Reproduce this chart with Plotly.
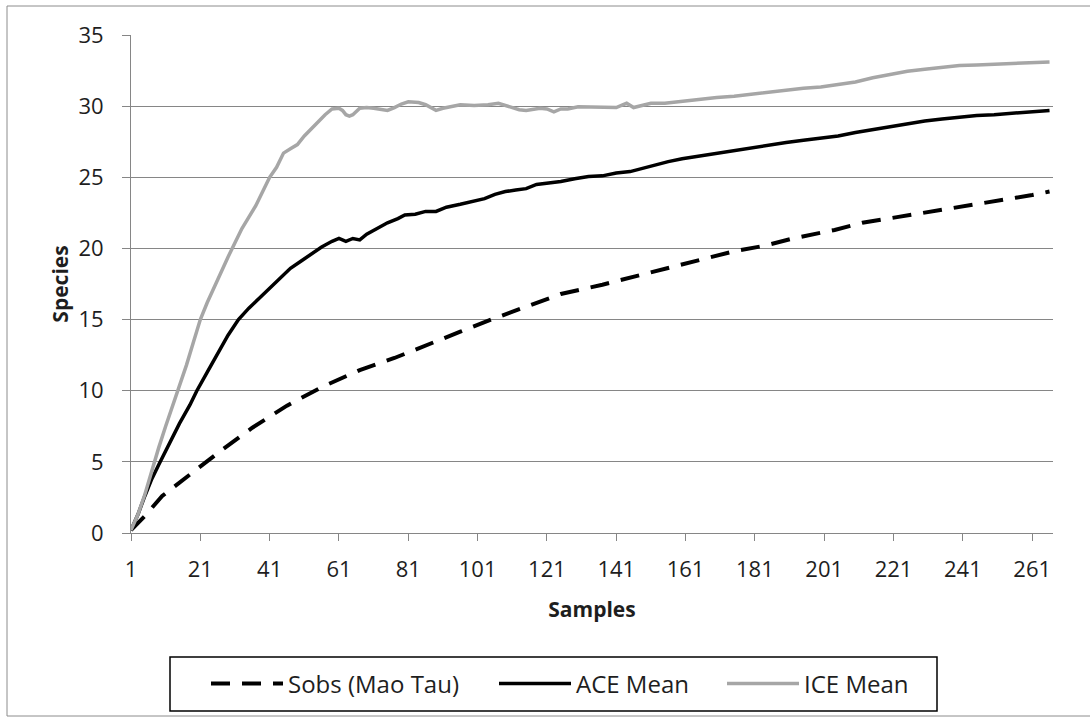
import plotly.graph_objects as go

# ---- data ----
sobs_x = [1, 5, 10, 17, 22, 27, 36, 46, 56, 67, 77, 86, 96, 106, 115, 125, 137, 146, 156, 165, 175,
          184, 192, 204, 212, 222, 232, 241, 250, 261, 266]
sobs_y = [0.2, 1.2, 2.6, 3.9, 4.9, 5.8, 7.4, 8.95, 10.25, 11.45, 12.3, 13.2, 14.15, 15.1, 15.9, 16.8,
          17.45, 18.0, 18.6, 19.2, 19.8, 20.2, 20.7, 21.3, 21.8, 22.2, 22.6, 22.9, 23.3, 23.75, 24.0]

ace_x = [1, 3, 5, 7, 9, 12, 15, 18, 20, 23, 26, 29, 32, 35, 38, 41, 44, 47, 50, 53, 56, 59, 61, 63,
         65, 67, 69, 72, 75, 78, 80, 83, 86, 89, 92, 96, 100, 103, 106, 109, 112, 115, 118, 121, 125,
         129, 133, 137, 141, 145, 148, 152, 156, 160, 165, 170, 175, 180, 185, 190, 195, 200, 205,
         210, 215, 220, 225, 230, 235, 240, 245, 250, 255, 260, 266]
ace_y = [0.2, 1.3, 2.6, 3.8, 4.8, 6.3, 7.7, 9.0, 10.0, 11.3, 12.6, 13.9, 15.0, 15.8, 16.5, 17.2, 17.9,
         18.6, 19.1, 19.6, 20.1, 20.5, 20.7, 20.5, 20.7, 20.6, 21.0, 21.4, 21.8, 22.1, 22.35, 22.4,
         22.6, 22.6, 22.9, 23.1, 23.3, 23.5, 23.8, 24.0, 24.1, 24.2, 24.5, 24.6, 24.7, 24.9, 25.05,
         25.1, 25.3, 25.4, 25.6, 25.85, 26.1, 26.3, 26.5, 26.7, 26.9, 27.1, 27.3, 27.45, 27.6, 27.75,
         27.9, 28.15, 28.35, 28.6, 28.8, 28.95, 29.1, 29.25, 29.35, 29.4, 29.5, 29.55, 29.7]

ice_x = [1, 3, 5, 7, 9, 11, 13, 15, 17, 19, 21, 23, 25, 27, 29, 31, 33, 35, 37, 39, 41, 43, 45, 47,
         49, 51, 53, 55, 57, 59, 61, 62, 63, 64, 65, 67, 69, 71, 73, 75, 77, 79, 81, 84, 86, 88, 89,
         91, 93, 96, 100, 104, 107, 109, 111, 113, 115, 117, 119, 121, 123, 125, 127, 130, 133, 137,
         141, 143, 144, 146, 148, 151, 155, 160, 165, 170, 175, 180, 185, 190, 195, 200, 205, 210,
         215, 220, 225, 230, 235, 240, 245, 250, 255, 260, 263, 266]
ice_y = [0.2, 1.3, 2.7, 4.4, 6.0, 7.5, 8.9, 10.3, 11.8, 13.4, 15.0, 16.2, 17.3, 18.3, 19.4, 20.4,
         21.4, 22.2, 23.0, 24.0, 25.0, 25.7, 26.7, 27.0, 27.3, 27.9, 28.4, 28.9, 29.4, 29.8, 29.85,
         29.7, 29.4, 29.3, 29.4, 29.85, 29.9, 29.85, 29.8, 29.7, 29.9, 30.15, 30.3, 30.25, 30.1, 29.85,
         29.7, 29.85, 29.95, 30.1, 30.05, 30.1, 30.2, 30.05, 29.85, 29.75, 29.7, 29.75, 29.85, 29.8,
         29.6, 29.8, 29.8, 29.95, 29.95, 29.9, 29.9, 30.1, 30.2, 29.9, 30.0, 30.2, 30.2, 30.35, 30.45,
         30.6, 30.7, 30.85, 31.0, 31.1, 31.25, 31.35, 31.5, 31.7, 32.0, 32.25, 32.45, 32.6, 32.75,
         32.85, 32.9, 32.95, 33.0, 33.0, 33.05, 33.1]

x_ticks = [1, 21, 41, 61, 81, 101, 121, 141, 161, 181, 201, 221, 241, 261]
y_ticks = [0, 5, 10, 15, 20, 25, 30, 35]

FONT = "Open Sans, sans-serif"
AX = "#868686"
TXT = "#1e1e1e"

fig = go.Figure()
fig.add_trace(go.Scatter(x=sobs_x, y=sobs_y, mode="lines", name="Sobs (Mao Tau)", legend="legend",
                         line=dict(color="black", width=4, dash="19px,12px")))
fig.add_trace(go.Scatter(x=ace_x, y=ace_y, mode="lines", name="ACE Mean", legend="legend2",
                         line=dict(color="black", width=3.5)))
fig.add_trace(go.Scatter(x=ice_x, y=ice_y, mode="lines", name="ICE Mean", legend="legend3",
                         line=dict(color="#a6a6a6", width=3.5)))

W, H = 1090, 719
L, R, T, B = 131, 37, 35, 186
pw, ph = W - L - R, H - T - B

def px_x(p):
    return (p - L) / pw

def px_y(p):
    return (H - B - p) / ph

def leg(xpx):
    return dict(orientation="h", x=px_x(xpx), xanchor="left", y=px_y(684), yanchor="middle",
                borderwidth=0, bgcolor="rgba(0,0,0,0)",
                font=dict(family=FONT, size=24, color=TXT), itemwidth=72)

fig.update_layout(
    width=W, height=H,
    margin=dict(l=L, r=R, t=T, b=B),
    paper_bgcolor="white", plot_bgcolor="white",
    font=dict(family=FONT, size=22, color=TXT),
    showlegend=True,
    legend=leg(206), legend2=leg(494), legend3=leg(722),
    xaxis=dict(range=[1, 267], tickvals=x_ticks, ticktext=[str(v) for v in x_ticks],
               showgrid=False, zeroline=False, showline=True, linecolor=AX, linewidth=1,
               ticks="outside", ticklen=7, tickcolor=AX, ticklabelstandoff=10,
               tickfont=dict(family=FONT, size=22, color=TXT),
               title=dict(text="<b>Samples</b>", font=dict(family=FONT, size=21, color=TXT), standoff=19)),
    yaxis=dict(range=[0, 35], tickvals=y_ticks, showgrid=True, gridcolor=AX, gridwidth=1,
               zeroline=False, showline=True, linecolor=AX, linewidth=1,
               ticks="outside", ticklen=8, tickcolor=AX, ticklabelstandoff=14,
               tickfont=dict(family=FONT, size=22, color=TXT),
               title=dict(text="<b>Species</b>", font=dict(family=FONT, size=21, color=TXT), standoff=4)),
    shapes=[
        dict(type="rect", xref="paper", yref="paper",
             x0=px_x(7), x1=px_x(1100), y0=px_y(716), y1=px_y(6),
             line=dict(color="#8c8c8c", width=1), fillcolor="rgba(0,0,0,0)", layer="below"),
        dict(type="rect", xref="paper", yref="paper",
             x0=px_x(170), x1=px_x(937), y0=px_y(711), y1=px_y(657),
             line=dict(color="black", width=1.5), fillcolor="rgba(0,0,0,0)", layer="below"),
    ],
)

fig.write_html("out.html")
